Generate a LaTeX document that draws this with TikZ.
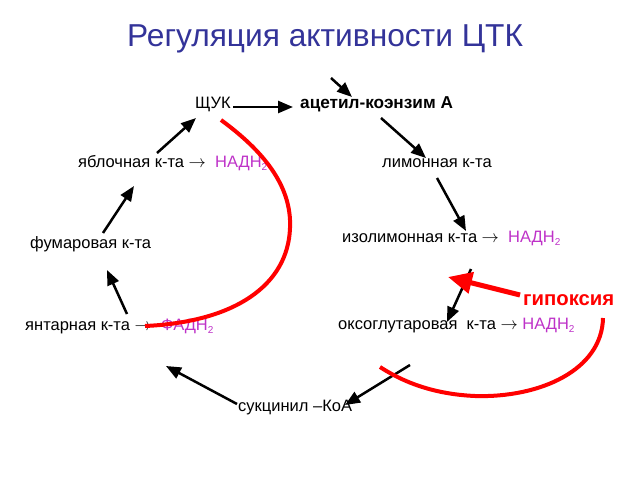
\documentclass[tikz,border=0pt]{standalone}
\usepackage{fontspec}
\setmainfont{Liberation Sans}
\usetikzlibrary{calc, arrows.meta}
\definecolor{titleblue}{RGB}{51,51,153}
\definecolor{nadcol}{RGB}{190,50,200}
\definecolor{hypred}{RGB}{255,0,0}
\newcommand{\lowtwo}{\raisebox{-0.45ex}{\fontsize{10}{10}\selectfont 2}}
\newcommand{\nadh}{\textcolor{nadcol}{НАДН\lowtwo}}
\newcommand{\fadh}{\textcolor{nadcol}{ФАДН\lowtwo}}
\newcommand{\yields}{$\to$}
\tikzset{
  metab/.style={anchor=base west, inner sep=0pt, font=\fontsize{16.5}{19}\selectfont},
  step arrow/.style={line width=2.5pt, -{Triangle[length=15pt,width=12pt]}},
  redline/.style={hypred, line width=4pt},
}
\begin{document}
\begin{tikzpicture}[x=1pt, y=-1pt]
\useasboundingbox (0,0) rectangle (640,480);
	% title
\node [anchor=base west, inner sep=0pt, text=titleblue, font=\fontsize{31.7}{36}\selectfont] (title) at (127,46) {Регуляция активности ЦТК};
	% cycle
\node [metab] (shuk) at (195,108) {ЩУК};
\node [metab, font=\fontsize{17.2}{19}\selectfont\bfseries] (acetyl) at (300,108) {ацетил-коэнзим А};
\node [metab] (citric) at (382,167) {лимонная к-та};
\node [metab] (isocit) at (342,242) {изолимонная к-та \yields\ \ \nadh};
\node [metab] (oxo) at (338,329) {оксоглутаровая\ \ к-та \yields\ \nadh};
\node [metab] (succoa) at (238,411) {сукцинил –КоА};
\node [metab] (succ) at (25,330) {янтарная к-та \yields\ \ \fadh};
\node [metab] (fumar) at (30,248) {фумаровая к-та};
\node [metab] (malic) at (78,167) {яблочная к-та \yields\ \ \nadh};
\node [anchor=base west, inner sep=0pt, text=hypred, font=\fontsize{20.3}{24}\selectfont\bfseries] (hypox) at (523,305) {гипоксия};
\coordinate (feed) at (331,78);
\coordinate (block) at ($(isocit.base west)+(106,35)$);

\draw [step arrow] (feed) -- ($(acetyl.base west)+(52,-11)$);
\draw [step arrow] ($(shuk.base west)+(38,-1)$) -- ($(acetyl.base west)+(-7,-1)$);
\draw [step arrow] ($(acetyl.base west)+(81,10)$) -- ($(citric.base west)+(44,-9)$);
\draw [step arrow] ($(citric.base west)+(55,11)$) -- ($(isocit.base west)+(124,-11)$);
\draw [step arrow] ($(isocit.base west)+(129,27)$) -- ($(oxo.base west)+(109,-7)$);
\draw [step arrow] ($(oxo.base west)+(72,36)$) -- ($(succoa.base west)+(107,-6)$);
\draw [step arrow] ($(succoa.base west)+(-1,-7)$) -- ($(succ.base west)+(141,36)$);
\draw [step arrow] ($(succ.base west)+(102,-16)$) -- ($(fumar.base west)+(77,22)$);
\draw [step arrow] ($(fumar.base west)+(73,-15)$) -- ($(malic.base west)+(56,19)$);
\draw [step arrow] ($(malic.base west)+(79,-14)$) -- ($(shuk.base west)+(1,10)$);

	% red marks
\draw [redline] ($(shuk.base west)+(26,12)$) .. controls (262,150) and (292,185) .. (290,228)
  .. controls (288,285) and (235,322) .. ($(succ.base west)+(120,-4)$);
\draw [redline] ($(hypox.base west)+(80,13)$) .. controls (602,370) and (540,398) .. (475,396)
  .. controls (430,394) and (400,380) .. ($(oxo.base west)+(42,38)$);
\draw [hypred, line width=5pt, -{Triangle[length=24pt,width=21pt]}] ($(hypox.base west)+(-3,-10)$) -- (block);
\end{tikzpicture}
\end{document}
